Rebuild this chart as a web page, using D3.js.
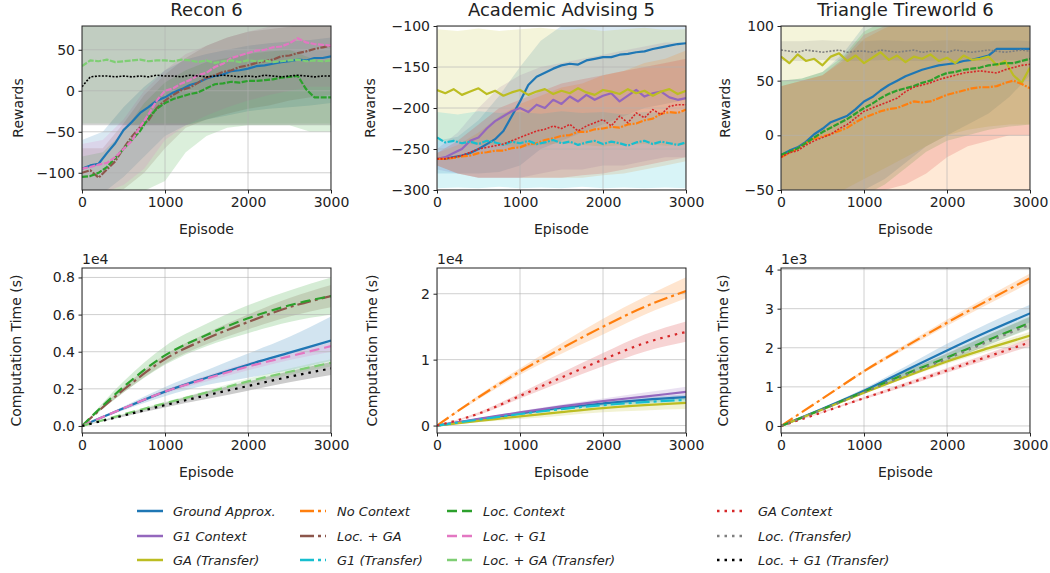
<!DOCTYPE html>
<html>
<head>
<meta charset="utf-8">
<script src="https://cdn.jsdelivr.net/npm/d3@7"></script>
<style>
  body { margin: 0; background: #fff; }
  svg text { font-family: "DejaVu Sans", sans-serif; fill: #222; }
</style>
</head>
<body>
<svg width="1050" height="573"></svg>
<script>
const svg = d3.select("svg");

// x grids
const rewardEpisodes = d3.range(0, 3001, 100);
const bandEpisodes = d3.range(0, 3001, 250);
const timeEpisodes = [0, 500, 1000, 1500, 2000, 2500, 3000];

// ---- Recon 6, rewards
const reconGround = [-95,-91,-89,-76,-64,-48,-38,-27,-20,-12,-8,-2,2,7,10,15,18,20,24,25,27,30,31,33,35,36,38,37,40,40,42];
const reconLocGA = [-100,-97,-106,-96,-86,-70,-56,-44,-36,-21,-12,-5,1,4,10,16,19,23,25,29,31,34,36,38,42,43,46,48,51,53,55];
const reconLocG1 = [-95,-93,-90,-88,-81,-71,-61,-44,-29,-12,0,3,9,13,19,22,29,33,40,43,46,49,50,53,54,58,64,59,57,56,55];
const reconLocC = [-105,-104,-100,-93,-82,-71,-60,-49,-33,-22,-15,-10,-7,-4,-2,3,8,9,11,10,12,12,13,14,16,17,18,2,-8,-8,-8];
const reconLocGAT = [30,37,36,38,35,36,37,38,36,37,37,36,38,37,35,37,34,36,37,35,37,36,37,35,36,37,38,36,37,36,37];
const reconLocG1T = [5,17,18,18,17,18,17,18,17,19,18,18,17,19,18,17,18,19,18,17,18,17,19,18,17,18,19,18,17,18,18];

const reconGroundBand = [[-125,-125,-105,-80,-55,-42,-35,-30,-25,-22,-20,-18,-15], [-60,-50,-20,5,25,38,45,50,55,58,60,62,65]];
const reconLocGABand = [[-125,-125,-120,-100,-70,-45,-35,-28,-22,-18,-12,-8,-5], [-70,-70,-40,-5,20,40,55,65,72,75,78,85,85]];
const reconLocG1Band = [[-125,-125,-115,-95,-60,-42,-30,-20,-12,-5,0,5,5], [-65,-60,-35,0,25,45,55,65,72,78,85,85,85]];
const reconLocCBand = [[-125,-125,-125,-122,-110,-75,-55,-45,-42,-42,-42,-50,-50], [-80,-75,-50,-15,10,25,35,40,45,48,50,40,35]];
const reconLocGATBand = [[-40,-40,-40,-40,-40,-40,-40,-40,-40,-40,-40,-40,-40], [85,85,85,85,85,85,85,85,85,85,85,85,85]];
const reconLocG1TBand = [[-42,-42,-42,-42,-42,-42,-42,-42,-42,-42,-42,-42,-42], [85,85,85,85,85,85,85,85,85,85,85,85,85]];

// ---- Academic Advising 5, rewards
const acadGround = [-262,-262,-260,-258,-255,-250,-244,-238,-228,-210,-192,-172,-162,-157,-152,-148,-146,-147,-142,-140,-138,-138,-135,-134,-132,-131,-128,-126,-124,-122,-121];
const acadG1C = [-262,-260,-255,-250,-240,-236,-225,-216,-210,-204,-200,-205,-196,-200,-190,-195,-186,-192,-184,-190,-185,-182,-192,-185,-178,-186,-182,-180,-187,-190,-188];
const acadGAT = [-178,-182,-177,-184,-180,-176,-183,-179,-185,-181,-178,-184,-180,-177,-183,-179,-182,-176,-181,-184,-178,-180,-183,-177,-182,-179,-185,-180,-177,-183,-179];
const acadNoC = [-262,-262,-261,-259,-258,-255,-254,-252,-252,-249,-248,-244,-243,-239,-237,-234,-233,-229,-229,-226,-225,-223,-224,-220,-219,-215,-213,-207,-205,-206,-202];
const acadG1T = [-236,-242,-240,-243,-241,-244,-240,-242,-245,-241,-243,-240,-244,-242,-239,-243,-241,-245,-242,-240,-244,-241,-243,-246,-242,-240,-244,-241,-243,-245,-242];
const acadGAC = [-262,-262,-260,-258,-254,-250,-248,-246,-244,-240,-236,-232,-228,-226,-222,-225,-220,-228,-222,-218,-214,-222,-210,-218,-206,-212,-202,-208,-198,-196,-196];

const acadGroundBand = [[-280,-280,-280,-278,-270,-250,-240,-230,-220,-210,-200,-195,-190], [-240,-235,-215,-185,-150,-118,-100,-95,-95,-95,-95,-95,-95]];
const acadG1CBand = [[-275,-280,-285,-285,-285,-280,-275,-275,-270,-270,-265,-260,-260], [-250,-230,-200,-175,-160,-150,-145,-140,-135,-130,-125,-120,-120]];
const acadGATBand = [[-240,-242,-245,-245,-248,-245,-243,-245,-247,-245,-244,-246,-245], [-104,-106,-103,-106,-104,-102,-105,-103,-106,-104,-102,-105,-104]];
const acadNoCBand = [[-270,-280,-285,-285,-285,-285,-285,-285,-282,-280,-275,-270,-265], [-255,-245,-230,-210,-195,-185,-175,-170,-160,-155,-145,-140,-130]];
const acadG1TBand = [[-298,-297,-298,-296,-298,-297,-298,-296,-298,-297,-298,-297,-298], [-205,-208,-204,-206,-205,-207,-204,-206,-205,-208,-205,-206,-205]];
const acadGACBand = [[-270,-280,-285,-285,-285,-285,-285,-282,-280,-275,-270,-265,-260], [-255,-240,-220,-200,-190,-180,-170,-165,-160,-155,-150,-145,-140]];

// ---- Triangle Tireworld 6, rewards
const triGround = [-18,-14,-11,-6,1,6,12,15,18,24,31,35,41,46,50,54,57,60,62,64,65,66,68,69,71,73,79,79,79,79,79];
const triLocC = [-18,-15,-12,-7,-2,3,7,11,15,20,25,29,34,38,41,43,45,48,50,54,57,58,60,61,62,64,65,66,66,68,70];
const triGAC = [-20,-16,-14,-9,-5,-2,1,6,10,16,22,25,28,31,34,40,44,46,48,51,53,55,57,58,59,58,57,60,62,64,65];
const triNoC = [-20,-16,-12,-7,-3,-1,1,4,7,12,16,19,22,24,25,28,31,30,31,34,37,39,41,43,44,44,45,48,50,47,43];
const triGAT = [72,66,74,68,70,64,72,75,68,73,66,71,76,69,73,67,72,70,74,68,71,66,73,69,70,72,64,68,55,48,62];
const triLocT = [78,77,76,78,77,76,77,78,76,77,77,76,78,77,76,77,78,76,77,77,76,78,77,76,77,78,77,76,77,78,77];

const triGroundBand = [[-60,-60,-60,-55,-50,-40,-25,-10,0,10,20,35,55], [50,52,58,75,100,105,105,105,105,105,105,105,105]];
const triLocCBand = [[-60,-60,-60,-60,-55,-45,-30,-15,-5,0,5,8,10], [50,52,58,72,95,105,105,105,105,105,105,105,105]];
const triGACBand = [[-60,-60,-60,-60,-55,-50,-45,-35,-20,-10,-5,0,0], [45,50,55,70,92,100,105,105,105,105,105,105,105]];
const triNoCBand = [[-60,-60,-60,-60,-60,-58,-56,-55,-55,-55,-55,-55,-55], [45,50,55,68,88,98,105,105,105,105,105,105,105]];
const triGATBand = [[-60,-60,-55,-50,-40,-30,-20,-10,0,5,8,10,10], [105,105,105,105,105,105,105,105,105,105,105,105,105]];
const triLocTBand = [[68,68,69,68,68,69,68,68,69,68,68,69,68], [86,86,87,86,86,87,86,86,87,86,86,87,86]];

// ---- Recon 6, computation time (s)
const timeReconGround = [0,950,1850,2600,3300,3950,4600];
const timeReconLocGA = [0,1950,3600,4700,5600,6400,7000];
const timeReconLocC = [0,2100,3800,4900,5800,6500,7000];
const timeReconLocG1 = [0,950,1850,2550,3200,3750,4300];
const timeReconLocGAT = [0,620,1220,1800,2400,2920,3400];
const timeReconLocG1T = [0,560,1120,1650,2150,2650,3100];

const timeReconGroundBand = [[0,850,1600,2200,2600,3000,3500], [0,1050,2100,3000,3900,4800,5900]];
const timeReconLocGABand = [[0,1800,3350,4400,5200,5900,6400], [0,2100,3850,5000,6000,6900,7600]];
const timeReconLocCBand = [[0,1800,3300,4300,5000,5600,6000], [0,2400,4300,5500,6500,7300,8000]];
const timeReconLocG1Band = [[0,900,1750,2400,3000,3550,4000], [0,1000,1950,2700,3400,3950,4500]];
const timeReconLocGATBand = [[0,580,1150,1700,2250,2750,3200], [0,660,1300,1900,2550,3100,3600]];
const timeReconLocG1TBand = [[0,500,1000,1450,1900,2350,2750], [0,620,1240,1850,2400,2950,3450]];

// ---- Academic Advising 5, computation time (s)
const timeAcadNoC = [0,4300,8200,11700,15000,18000,20400];
const timeAcadGAC = [0,1800,4500,7300,10000,12500,14200];
const timeAcadG1C = [0,1000,2000,2900,3700,4400,5100];
const timeAcadGround = [0,950,1850,2700,3350,3900,4300];
const timeAcadG1T = [0,900,1750,2500,3100,3550,3900];
const timeAcadGAT = [0,700,1400,2050,2650,3100,3450];

const timeAcadNoCBand = [[0,4000,7700,10900,13800,16800,19300], [0,4600,8700,12500,16200,19500,22500]];
const timeAcadGACBand = [[0,1600,4100,6600,9000,11200,12700], [0,2000,4900,8000,11000,13800,15800]];
const timeAcadG1CBand = [[0,900,1800,2600,3300,3900,4500], [0,1100,2200,3200,4100,5000,5900]];
const timeAcadGroundBand = [[0,850,1700,2450,3000,3500,3900], [0,1050,2000,2950,3700,4300,4700]];
const timeAcadG1TBand = [[0,850,1650,2350,2900,3300,3600], [0,950,1850,2650,3300,3800,4200]];
const timeAcadGATBand = [[0,500,1000,1500,2000,2300,2500], [0,900,1800,2600,3300,3900,4500]];

// ---- Triangle Tireworld 6, computation time (s)
const timeTriNoC = [0,700,1400,2030,2640,3220,3780];
const timeTriGround = [0,440,900,1420,1930,2420,2880];
const timeTriLocC = [0,430,880,1330,1750,2200,2640];
const timeTriLocT = [0,420,860,1300,1720,2160,2590];
const timeTriGAT = [0,420,850,1260,1650,1990,2310];
const timeTriGAC = [0,350,710,1060,1420,1780,2140];

const timeTriNoCBand = [[0,680,1360,1970,2560,3120,3660], [0,720,1440,2090,2720,3320,3900]];
const timeTriGroundBand = [[0,420,850,1300,1750,2200,2650], [0,470,960,1520,2100,2630,3100]];
const timeTriLocCBand = [[0,410,840,1260,1650,2070,2480], [0,450,920,1400,1850,2330,2800]];
const timeTriLocTBand = [[0,400,830,1250,1650,2080,2500], [0,450,930,1400,1860,2330,2780]];
const timeTriGATBand = [[0,410,830,1220,1590,1910,2210], [0,430,870,1300,1710,2070,2410]];
const timeTriGACBand = [[0,330,680,1010,1360,1700,2040], [0,370,740,1110,1480,1860,2240]];

// legend / style table (column-major order as in the figure)
const methods = [
  { key: "ga",     label: "Ground Approx.",        color: "#1f77b4", dash: "solid" },
  { key: "g1c",    label: "G1 Context",            color: "#9467bd", dash: "solid" },
  { key: "gat",    label: "GA (Transfer)",         color: "#bcbd22", dash: "solid" },
  { key: "noc",    label: "No Context",            color: "#ff7f0e", dash: "dashdot" },
  { key: "locga",  label: "Loc. + GA",             color: "#8c564b", dash: "dashdot" },
  { key: "g1t",    label: "G1 (Transfer)",         color: "#17becf", dash: "dashdot" },
  { key: "locc",   label: "Loc. Context",          color: "#2ca02c", dash: "dashed" },
  { key: "locg1",  label: "Loc. + G1",             color: "#e377c2", dash: "dashed" },
  { key: "locgat", label: "Loc. + GA (Transfer)",  color: "#7fce74", dash: "dashed" },
  { key: "gac",    label: "GA Context",            color: "#d62728", dash: "dotted" },
  { key: "loct",   label: "Loc. (Transfer)",       color: "#7f7f7f", dash: "dotted" },
  { key: "locg1t", label: "Loc. + G1 (Transfer)",  color: "#000000", dash: "dotted" }
];
const methodOrder = methods.map(m => m.key);
const styleOf = k => methods.find(m => m.key === k);

const dashes = {
  solid: null,
  dashdot: "14,4,3,4",
  dashed: "10,5",
  dotted: "2.5,5"
};
const dashesThin = {
  solid: null,
  dashdot: "7,1.5,2,1.5",
  dashed: "6,1.5",
  dotted: "2,1.5"
};

const panels = [
  { title: "Recon 6", col: 0, row: 0, yDomain: [-121, 79], yTicks: [-100, -50, 0, 50],
    ylabel: "Rewards", ylabelX: -64, x: rewardEpisodes, bx: bandEpisodes,
    series: [
      { key: "ga", mean: reconGround, band: reconGroundBand },
      { key: "locga", mean: reconLocGA, band: reconLocGABand },
      { key: "locc", mean: reconLocC, band: reconLocCBand },
      { key: "locg1", mean: reconLocG1, band: reconLocG1Band },
      { key: "locgat", mean: reconLocGAT, band: reconLocGATBand },
      { key: "locg1t", mean: reconLocG1T, band: reconLocG1TBand }
    ] },
  { title: "Academic Advising 5", col: 1, row: 0, yDomain: [-300, -100], yTicks: [-300, -250, -200, -150, -100],
    ylabel: "Rewards", ylabelX: -67, x: rewardEpisodes, bx: bandEpisodes,
    series: [
      { key: "ga", mean: acadGround, band: acadGroundBand },
      { key: "g1c", mean: acadG1C, band: acadG1CBand },
      { key: "gat", mean: acadGAT, band: acadGATBand },
      { key: "noc", mean: acadNoC, band: acadNoCBand },
      { key: "g1t", mean: acadG1T, band: acadG1TBand },
      { key: "gac", mean: acadGAC, band: acadGACBand }
    ] },
  { title: "Triangle Tireworld 6", col: 2, row: 0, yDomain: [-50, 100], yTicks: [-50, 0, 50, 100],
    ylabel: "Rewards", ylabelX: -56, x: rewardEpisodes, bx: bandEpisodes,
    series: [
      { key: "ga", mean: triGround, band: triGroundBand },
      { key: "gat", mean: triGAT, band: triGATBand },
      { key: "noc", mean: triNoC, band: triNoCBand },
      { key: "locc", mean: triLocC, band: triLocCBand },
      { key: "gac", mean: triGAC, band: triGACBand },
      { key: "loct", mean: triLocT, band: triLocTBand }
    ] },
  { col: 0, row: 1, yDomain: [-380, 8510], yTicks: [0, 2000, 4000, 6000, 8000], scale: 1e4, fmt: ".1f", offset: "1e4",
    ylabel: "Computation Time (s)", ylabelX: -66, x: timeEpisodes, bx: timeEpisodes,
    series: [
      { key: "ga", mean: timeReconGround, band: timeReconGroundBand },
      { key: "locga", mean: timeReconLocGA, band: timeReconLocGABand },
      { key: "locc", mean: timeReconLocC, band: timeReconLocCBand },
      { key: "locg1", mean: timeReconLocG1, band: timeReconLocG1Band },
      { key: "locgat", mean: timeReconLocGAT, band: timeReconLocGATBand },
      { key: "locg1t", mean: timeReconLocG1T, band: timeReconLocG1TBand }
    ] },
  { col: 1, row: 1, yDomain: [-1130, 23900], yTicks: [0, 10000, 20000], scale: 1e4, fmt: "d", offset: "1e4",
    ylabel: "Computation Time (s)", ylabelX: -65, x: timeEpisodes, bx: timeEpisodes,
    series: [
      { key: "ga", mean: timeAcadGround, band: timeAcadGroundBand },
      { key: "g1c", mean: timeAcadG1C, band: timeAcadG1CBand },
      { key: "gat", mean: timeAcadGAT, band: timeAcadGATBand },
      { key: "noc", mean: timeAcadNoC, band: timeAcadNoCBand },
      { key: "g1t", mean: timeAcadG1T, band: timeAcadG1TBand },
      { key: "gac", mean: timeAcadGAC, band: timeAcadGACBand }
    ] },
  { col: 2, row: 1, yDomain: [-180, 4040], yTicks: [0, 1000, 2000, 3000, 4000], scale: 1e3, fmt: "d", offset: "1e3",
    ylabel: "Computation Time (s)", ylabelX: -58, x: timeEpisodes, bx: timeEpisodes,
    series: [
      { key: "ga", mean: timeTriGround, band: timeTriGroundBand },
      { key: "gat", mean: timeTriGAT, band: timeTriGATBand },
      { key: "noc", mean: timeTriNoC, band: timeTriNoCBand },
      { key: "locc", mean: timeTriLocC, band: timeTriLocCBand },
      { key: "gac", mean: timeTriGAC, band: timeTriGACBand },
      { key: "loct", mean: timeTriLocT, band: timeTriLocTBand }
    ] }
];

const lefts = [82, 437, 781];
const tops = [26, 268];
const plotW = 249;
const plotH = [164, 165];

const drawPanel = (p, idx) => {
  const left = lefts[p.col];
  const top = tops[p.row];
  const h = plotH[p.row];
  const isTime = p.row === 1;

  const xScale = d3.scaleLinear().domain([0, 3000]).range([0, plotW]);
  const yScale = d3.scaleLinear().domain(p.yDomain).range([h, 0]);

  const g = svg.append("g").attr("transform", `translate(${left},${top})`);

  const clipId = `clip${idx}`;
  g.append("clipPath").attr("id", clipId)
    .append("rect").attr("width", plotW).attr("height", h);

  const plot = g.append("g").attr("clip-path", `url(#${clipId})`);

  const series = p.series.slice().sort((a, b) => methodOrder.indexOf(a.key) - methodOrder.indexOf(b.key));

  // bands
  const area = d3.area()
    .x((d, i) => xScale(p.bx[i]))
    .y0(d => yScale(d[0]))
    .y1(d => yScale(d[1]));
  if (isTime) area.curve(d3.curveMonotoneX);

  series.forEach(s => {
    plot.append("path")
      .datum(d3.zip(s.band[0], s.band[1]))
      .attr("d", area)
      .attr("fill", styleOf(s.key).color)
      .attr("fill-opacity", isTime ? 0.2 : 0.17);
  });

  // grid
  const gridG = plot.append("g");
  gridG.selectAll(".gx").data([0, 1000, 2000, 3000]).enter().append("line")
    .attr("x1", d => xScale(d)).attr("x2", d => xScale(d))
    .attr("y1", 0).attr("y2", h)
    .attr("stroke", "#b0b0b0").attr("stroke-opacity", 0.6).attr("stroke-width", 1);
  gridG.selectAll(".gy").data(p.yTicks).enter().append("line")
    .attr("x1", 0).attr("x2", plotW)
    .attr("y1", d => yScale(d)).attr("y2", d => yScale(d))
    .attr("stroke", "#b0b0b0").attr("stroke-opacity", 0.6).attr("stroke-width", 1);

  // mean lines
  const line = d3.line()
    .x((d, i) => xScale(p.x[i]))
    .y(d => yScale(d));
  if (isTime) line.curve(d3.curveMonotoneX);

  series.forEach(s => {
    const st = styleOf(s.key);
    plot.append("path")
      .datum(s.mean)
      .attr("d", line)
      .attr("fill", "none")
      .attr("stroke", st.color)
      .attr("stroke-width", isTime ? 2.2 : (st.dash === "dotted" ? 1.6 : 2.2))
      .attr("stroke-linejoin", "round")
      .attr("stroke-dasharray", isTime ? dashes[st.dash] : dashesThin[st.dash]);
  });

  // axes
  const xAxis = d3.axisBottom(xScale)
    .tickValues([0, 1000, 2000, 3000])
    .tickFormat(d3.format("d"))
    .tickSize(3.5)
    .tickPadding(3.5);
  const yAxis = d3.axisLeft(yScale)
    .tickValues(p.yTicks)
    .tickSize(3.5)
    .tickPadding(3.5)
    .tickFormat(p.scale ? (d => d3.format(p.fmt)(d / p.scale)) : d3.format("d"));

  const xAxisG = g.append("g").attr("transform", `translate(0,${h})`).call(xAxis);
  const yAxisG = g.append("g").call(yAxis);
  [xAxisG, yAxisG].forEach(a => {
    a.select(".domain").remove();
    a.selectAll("text").attr("font-size", 14).attr("font-family", "DejaVu Sans").attr("fill", "#222");
    a.selectAll("line").attr("stroke", "#222");
  });

  g.append("rect")
    .attr("width", plotW).attr("height", h)
    .attr("fill", "none").attr("stroke", "#222").attr("stroke-width", 1);

  g.append("text")
    .attr("x", plotW / 2).attr("y", h + 44)
    .attr("text-anchor", "middle").attr("font-size", 14)
    .text("Episode");

  g.append("text")
    .attr("transform", `translate(${p.ylabelX + 5},${h / 2}) rotate(-90)`)
    .attr("text-anchor", "middle").attr("font-size", 14)
    .text(p.ylabel);

  if (p.title) {
    g.append("text")
      .attr("x", plotW / 2).attr("y", 16 - top)
      .attr("text-anchor", "middle").attr("font-size", 18)
      .text(p.title);
  }
  if (p.offset) {
    g.append("text")
      .attr("x", 0).attr("y", -4)
      .attr("font-size", 14)
      .text(p.offset);
  }
};

panels.forEach(drawPanel);

// legend
const legendColX = [137, 300, 447, 717];
const legendTextX = [173, 337, 483, 758];
const legendRowY = [511, 536, 560];
const legend = svg.append("g");
methods.forEach((m, i) => {
  const c = Math.floor(i / 3);
  const cx = legendColX[c];
  const cy = legendRowY[i % 3];
  legend.append("line")
    .attr("x1", cx).attr("x2", cx + 26)
    .attr("y1", cy).attr("y2", cy)
    .attr("stroke", m.color).attr("stroke-width", 2.5)
    .attr("stroke-dasharray", dashes[m.dash]);
  legend.append("text")
    .attr("x", legendTextX[c]).attr("y", cy + 5)
    .attr("font-size", 13).attr("font-style", "italic")
    .text(m.label);
});
</script>
</body>
</html>
